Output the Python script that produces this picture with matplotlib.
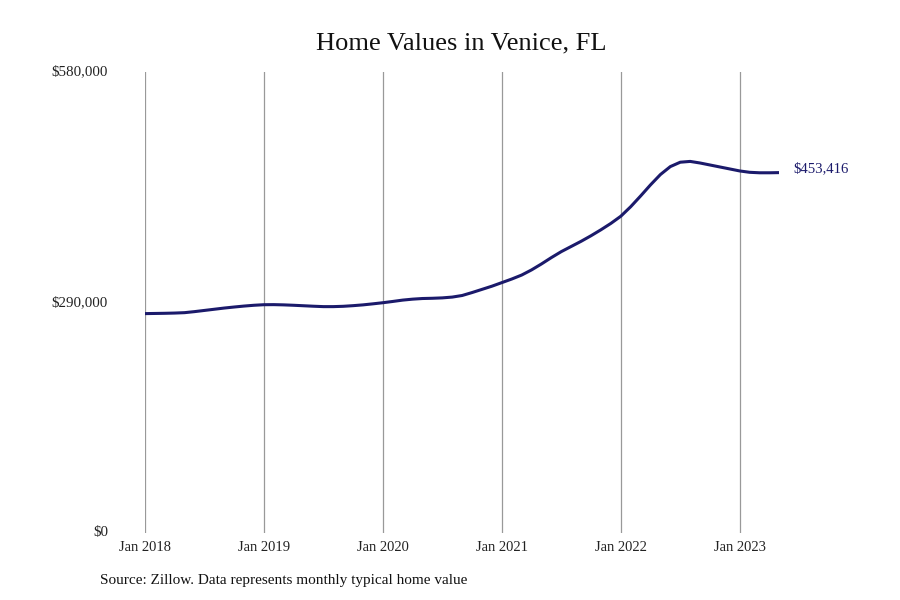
import matplotlib
matplotlib.use("Agg")
import matplotlib.pyplot as plt
from matplotlib.ticker import FuncFormatter

plt.rcParams['font.family'] = ['Liberation Serif', 'DejaVu Serif']

title = "Home Values in Venice, FL"
source = "Source: Zillow. Data represents monthly typical home value"

# monthly typical home value, Jan 2018 .. May 2023
values_2018 = [276000, 276200, 276400, 276700, 277200, 278500, 280000, 281500, 283000, 284300, 285500, 286500]
values_2019 = [287200, 287300, 287000, 286500, 285900, 285300, 284800, 284800, 285200, 286000, 287000, 288300]
values_2020 = [289700, 291300, 293000, 294200, 295000, 295300, 295800, 296800, 298800, 302500, 306500, 310500]
values_2021 = [315000, 319500, 324500, 331000, 338500, 346500, 354000, 360500, 367000, 374000, 381500, 389500]
values_2022 = [398500, 410500, 424000, 438000, 451000, 461000, 466500, 467500, 465500, 463000, 460500, 458000]
values_2023 = [455500, 453800, 453200, 453200, 453416]
values = values_2018 + values_2019 + values_2020 + values_2021 + values_2022 + values_2023
months = list(range(len(values)))

tick_pos = [0, 12, 24, 36, 48, 60]
tick_labels = ["Jan 2018", "Jan 2019", "Jan 2020", "Jan 2021", "Jan 2022", "Jan 2023"]
y_ticks = [0, 290000, 580000]

fig = plt.figure(figsize=(9, 6), dpi=100)
ax = fig.add_axes([0.161, 0.1117, 0.705, 0.7683])

ax.plot(months, values, color="#1b1a6b", linewidth=2.2, solid_capstyle='round', zorder=3)

ax.set_xlim(0, months[-1])
ax.set_ylim(0, 580000)
ax.set_xticks(tick_pos)
ax.set_xticklabels(tick_labels, fontsize=10.5, color="#222222")
ax.set_yticks(y_ticks)
ax.yaxis.set_major_formatter(FuncFormatter(lambda v, p: f"${v:,.0f}"))
ax.tick_params(axis='y', length=0, pad=26.5, labelsize=10.8, labelcolor="#222222")
ax.tick_params(axis='x', length=0, pad=6)
for lab in ax.get_yticklabels():
    lab.set_verticalalignment('center')

ax.grid(axis='x', color="#999999", linewidth=0.9)
ax.grid(axis='y', visible=False)
for s in ax.spines.values():
    s.set_visible(False)

ax.annotate(f"${values[-1]:,.0f}", xy=(months[-1], values[-1]), xytext=(10, 3),
            textcoords='offset points', fontsize=10.6, color="#1b1a6b", va='center', ha='left')

fig.text(0.512, 0.927, title, fontsize=19, ha='center', va='center', color="#111111")
fig.text(0.111, 0.033, source, fontsize=11, ha='left', va='center', color="#111111")

fig.savefig("out.png", dpi=100)
